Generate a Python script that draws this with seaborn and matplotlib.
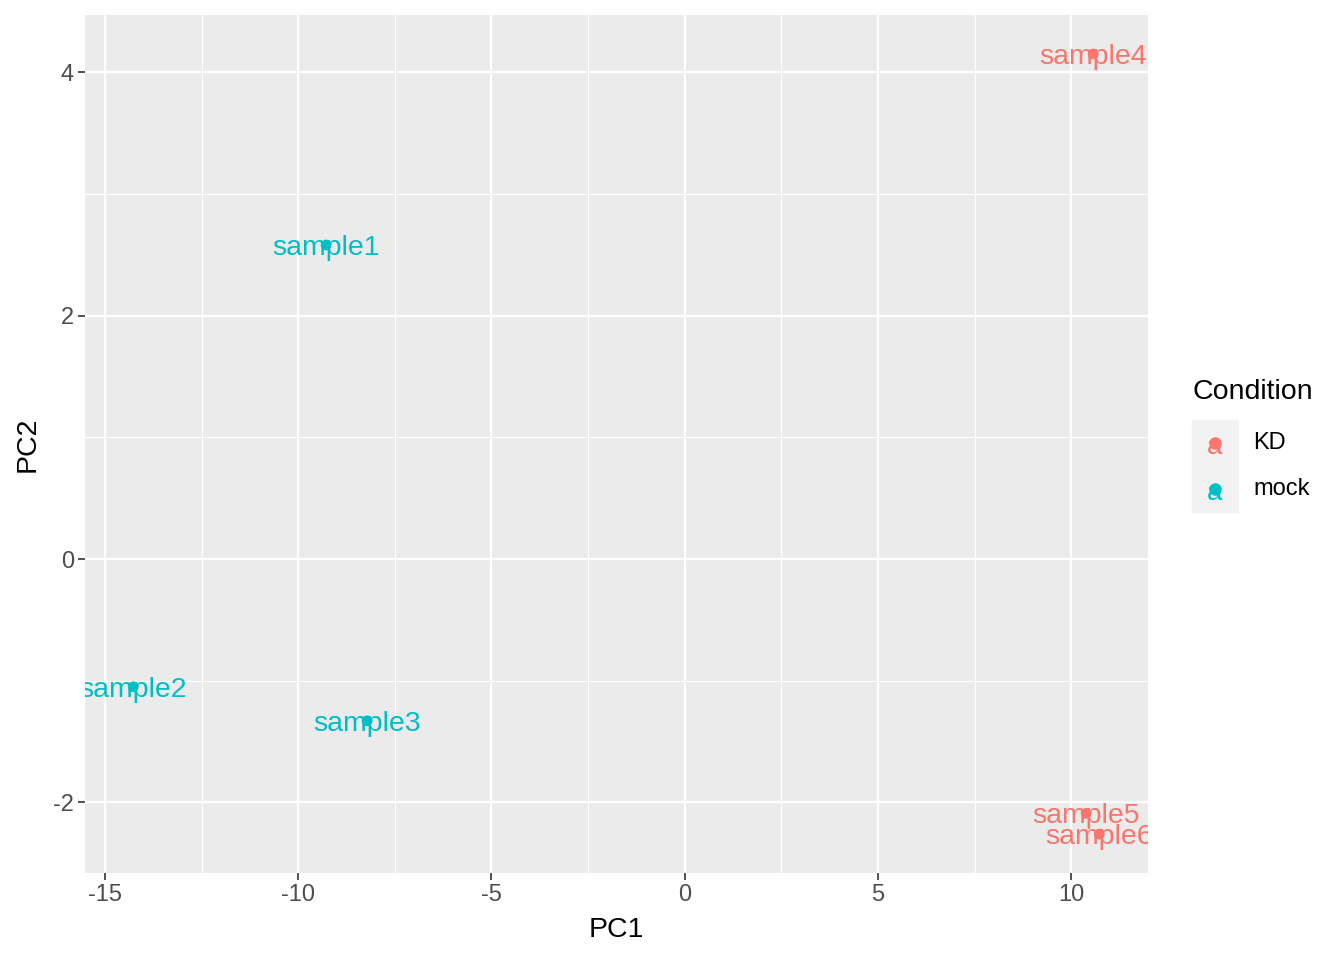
import pandas as pd
import seaborn as sns
import matplotlib.pyplot as plt
from matplotlib.lines import Line2D
from matplotlib.patches import Rectangle

# PCA scores
samples = ["sample1", "sample2", "sample3", "sample4", "sample5", "sample6"]
pc1 = [-9.28, -14.27, -8.22, 10.57, 10.39, 10.73]
pc2 = [2.58, -1.05, -1.33, 4.15, -2.09, -2.26]
condition = ["mock", "mock", "mock", "KD", "KD", "KD"]

x_ticks = [-15, -10, -5, 0, 5, 10]
y_ticks = [-2, 0, 2, 4]

pca_df = pd.DataFrame({"sample": samples, "PC1": pc1, "PC2": pc2, "Condition": condition})
colors = {"KD": "#F8766D", "mock": "#00BFC4"}

plt.rcParams["font.family"] = ["Liberation Sans", "DejaVu Sans"]

W, H = 1344, 960
fig = plt.figure(figsize=(W / 100, H / 100), dpi=100)
ax = fig.add_axes([85 / W, 1 - 873 / H, (1148 - 85) / W, (873 - 15) / H])
ax.set_facecolor("#EBEBEB")

# ggplot-like grid
for xv in [-12.5, -7.5, -2.5, 2.5, 7.5]:
    ax.axvline(xv, color="white", lw=0.8, zorder=0)
for yv in [-1, 1, 3]:
    ax.axhline(yv, color="white", lw=0.8, zorder=0)
for xv in x_ticks:
    ax.axvline(xv, color="white", lw=1.6, zorder=0)
for yv in y_ticks:
    ax.axhline(yv, color="white", lw=1.6, zorder=0)

sns.scatterplot(data=pca_df, x="PC1", y="PC2", hue="Condition", palette=colors,
                hue_order=["KD", "mock"], s=60, edgecolor="none", ax=ax, legend=False, zorder=3)

for _, row in pca_df.iterrows():
    ax.text(row["PC1"], row["PC2"], row["sample"], color=colors[row["Condition"]],
            ha="center", va="center_baseline", fontsize=20.5, clip_on=True, zorder=4)

ax.set_xlim(-15.52, 11.99)
ax.set_ylim(-2.58, 4.47)
ax.set_xticks(x_ticks)
ax.set_yticks(y_ticks)
ax.set_xticklabels([str(t) for t in x_ticks])
ax.set_yticklabels([str(t) for t in y_ticks])
ax.tick_params(labelsize=17, labelcolor="#4D4D4D", color="#333333", length=5, width=1.2, pad=3)
for sp in ax.spines.values():
    sp.set_visible(False)
ax.set_xlabel("PC1", fontsize=20.5, labelpad=8)
ax.set_ylabel("PC2", fontsize=20.5, labelpad=9)

# legend drawn ggplot style: grey keys, point with "a" glyph
fig.text(1193 / W, 1 - 392 / H, "Condition", fontsize=20.5, ha="left", va="center")
fig.patches.append(Rectangle((1192 / W, 1 - 512 / H), 46 / W, 92 / H,
                             transform=fig.transFigure, color="#F2F2F2", zorder=1))
for i, c in enumerate(["KD", "mock"]):
    yk = 1 - (443 + 46 * i) / H
    fig.add_artist(Line2D([1215 / W], [yk], marker="o", ls="none", color=colors[c],
                          markersize=8, transform=fig.transFigure, zorder=2))
    fig.text(1215 / W, yk - 4 / H, "a", color=colors[c], fontsize=20, ha="center",
             va="center", zorder=3)
    fig.text(1253 / W, yk, c, fontsize=17, ha="left", va="center")

fig.savefig("out.png", dpi=100)
